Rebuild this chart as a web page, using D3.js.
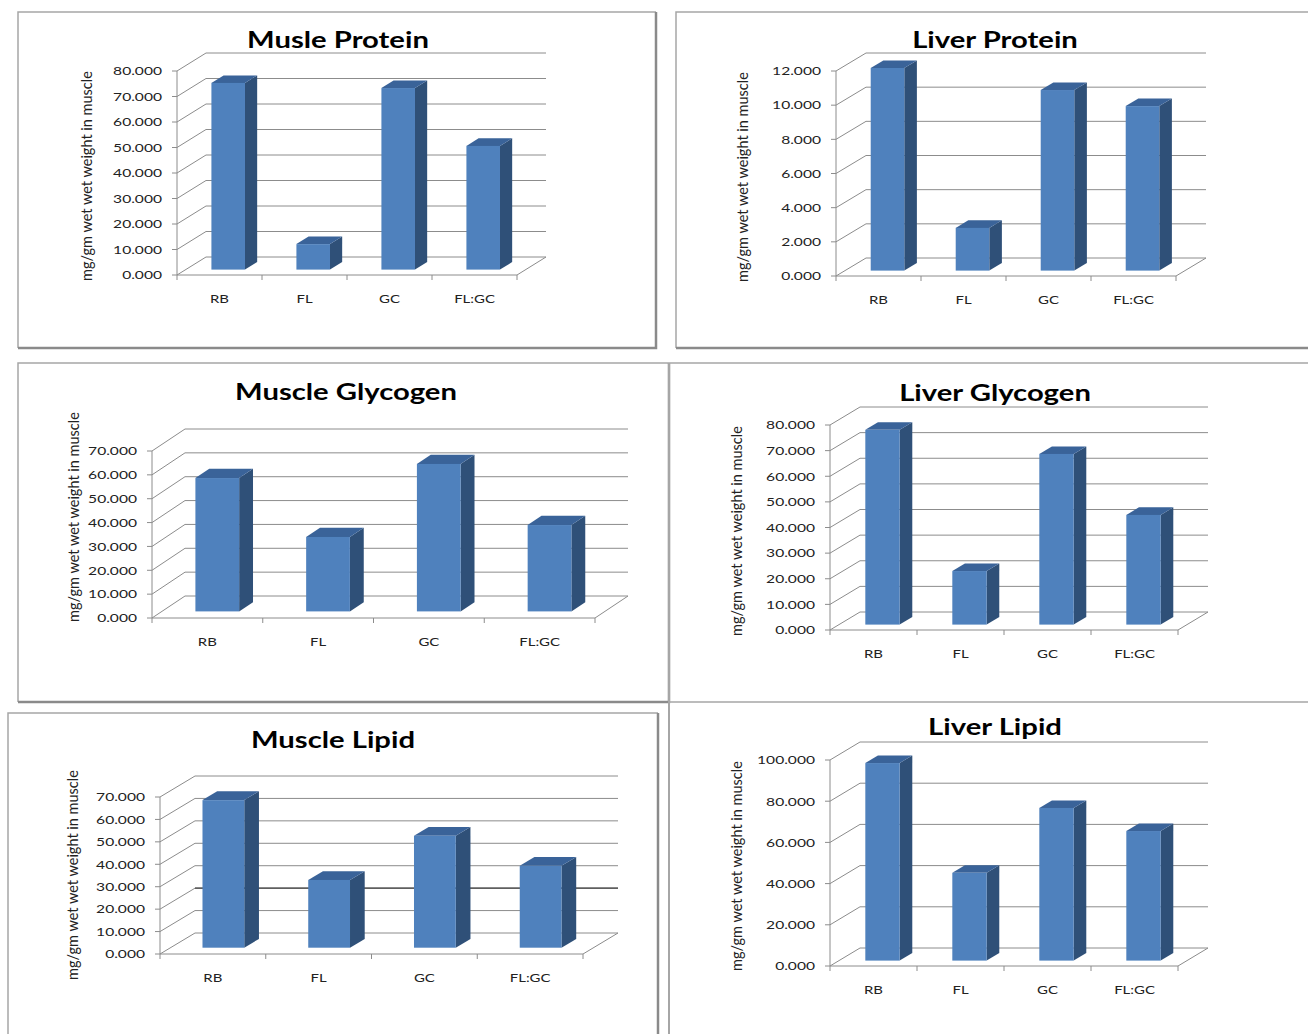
<!DOCTYPE html>
<html><head><meta charset="utf-8">
<script src="https://cdn.jsdelivr.net/npm/d3@7"></script>
<style>body{margin:0;background:#fff} svg{display:block}</style>
</head><body><svg id="c" width="1308" height="1034"></svg>
<script>
const categories = ["RB", "FL", "GC", "FL:GC"];
const titles = ["Musle Protein", "Liver Protein", "Muscle Glycogen", "Liver Glycogen", "Muscle Lipid", "Liver Lipid"];
const musleProtein = [73.2, 10.0, 71.2, 48.5];
const liverProtein = [11.86, 2.5, 10.57, 9.63];
const muscleGlycogen = [55.9, 31.2, 61.8, 36.2];
const liverGlycogen = [76.0, 20.9, 66.6, 42.8];
const muscleLipid = [65.8, 30.2, 49.9, 36.5];
const liverLipid = [95.9, 42.6, 74.1, 62.9];
const yMaxes = [80, 12, 70, 80, 70, 100];
const tickSteps = [10, 2, 10, 10, 10, 20];
const yAxisTitle = "mg/gm wet wet weight in muscle";

const series = [musleProtein, liverProtein, muscleGlycogen, liverGlycogen, muscleLipid, liverLipid];

const layouts = [
  {x0:177,y0:275,w:340,h:204,dx:29,dy:-18,tx:338,ty:48,lx:87,ly:176},
  {x0:836,y0:276,w:340,h:205,dx:30,dy:-18,tx:995,ty:48,lx:743,ly:177},
  {x0:152,y0:618,w:443,h:167,dx:33,dy:-22,tx:346,ty:400,lx:74,ly:517},
  {x0:830,y0:630,w:348,h:205,dx:30,dy:-18,tx:995,ty:401,lx:737,ly:531},
  {x0:160,y0:954,w:423,h:157,dx:35,dy:-21,tx:333,ty:748,lx:73,ly:875,dark:20},
  {x0:830,y0:966,w:348,h:206,dx:30,dy:-18,tx:995,ty:735,lx:737,ly:866}
];

const svg = d3.select("#c");
const FONT = "Lato, 'Open Sans', sans-serif";
const GRID = "#8c8c8c";
const SX = 1.3; // horizontal stretch of the reference text

// panel frames
const frames = svg.append("g").attr("fill","none");
function frame(x1,y1,x2,y2){
  frames.append("path").attr("d",`M${x1},${y2}V${y1}H${x2}`).attr("stroke","#a6a6a6").attr("stroke-width",1.5);
  frames.append("path").attr("d",`M${x2},${y1}V${y2}H${x1}`).attr("stroke","#8a8a8a").attr("stroke-width",2.5);
}
frame(18,12,656,348);
frame(676,12,1312,348);
frame(18,363,669,702);
frame(8,713,658,1040);
frames.append("path").attr("d","M669,363H1308").attr("stroke","#a6a6a6").attr("stroke-width",1.5);
frames.append("path").attr("d","M669,702H1308").attr("stroke","#a6a6a6").attr("stroke-width",1.5);
frames.append("path").attr("d","M669,363V1034").attr("stroke","#a6a6a6").attr("stroke-width",2);

function stretchedText(g, x, y, txt, size, anchor, weight){
  return g.append("text").attr("transform",`translate(${x},${y}) scale(${SX},1)`)
    .attr("text-anchor",anchor).attr("font-family",FONT).attr("font-size",size)
    .attr("font-weight",weight||"normal").attr("fill", weight==="bold" ? "#000" : "#222").text(txt);
}

series.forEach((vals, i) => {
  const L = layouts[i];
  const g = svg.append("g");
  const y = d3.scaleLinear().domain([0, yMaxes[i]]).range([L.y0, L.y0 - L.h]);
  const x = d3.scaleBand().domain(categories).range([L.x0, L.x0 + L.w]).padding(0);
  const ticks = d3.range(0, yMaxes[i] + tickSteps[i]/2, tickSteps[i]);
  const {dx, dy} = L;

  // side wall diagonals and back wall gridlines
  ticks.forEach(t => {
    const yy = y(t);
    const col = (L.dark === t) ? "#5f5f5f" : GRID;
    const sw = (L.dark === t) ? 1.8 : 1;
    g.append("line").attr("x1",L.x0).attr("y1",yy).attr("x2",L.x0+dx).attr("y2",yy+dy)
      .attr("stroke",GRID).attr("stroke-width",1);
    g.append("line").attr("x1",L.x0+dx).attr("y1",yy+dy).attr("x2",L.x0+L.w+dx).attr("y2",yy+dy)
      .attr("stroke",col).attr("stroke-width",sw);
  });
  // floor
  g.append("path").attr("fill","none").attr("stroke",GRID).attr("stroke-width",1)
    .attr("d",`M${L.x0},${L.y0}H${L.x0+L.w}L${L.x0+L.w+dx},${L.y0+dy}`);
  // y axis
  g.append("line").attr("x1",L.x0).attr("y1",y(0)).attr("x2",L.x0).attr("y2",y(yMaxes[i]))
    .attr("stroke",GRID);
  ticks.forEach(t => {
    g.append("line").attr("x1",L.x0-5).attr("x2",L.x0).attr("y1",y(t)).attr("y2",y(t)).attr("stroke",GRID);
    stretchedText(g, L.x0-15, y(t)+4.3, d3.format(".3f")(t), 12, "end");
  });
  // x ticks
  categories.concat(["_end"]).forEach((c, k) => {
    const xx = L.x0 + k * x.bandwidth();
    g.append("line").attr("x1",xx).attr("x2",xx).attr("y1",L.y0).attr("y2",L.y0+5).attr("stroke",GRID);
  });
  categories.forEach(c => {
    stretchedText(g, x(c)+x.bandwidth()/2, L.y0+28, c, 11.5, "middle");
  });
  // bars
  const bw = x.bandwidth()*0.395, f0 = 0.3, fd = 0.42;
  const ox = dx*f0, oy = dy*f0, sx = dx*fd, sy = dy*fd;
  categories.forEach((c, k) => {
    const v = vals[k];
    const xl = x(c) + x.bandwidth()/2 - bw/2 + ox;
    const xr = xl + bw;
    const yb = y(0) + oy, yt = y(v) + oy;
    g.append("path").attr("fill","#2f5078")
      .attr("d",`M${xr},${yb}L${xr+sx},${yb+sy}L${xr+sx},${yt+sy}L${xr},${yt}Z`);
    g.append("path").attr("fill","#3a6399")
      .attr("d",`M${xl},${yt}L${xr},${yt}L${xr+sx},${yt+sy}L${xl+sx},${yt+sy}Z`);
    g.append("rect").attr("x",xl).attr("y",yt).attr("width",bw).attr("height",yb-yt).attr("fill","#4f81bd");
  });
  // title
  stretchedText(g, L.tx, L.ty, titles[i], 22.5, "middle", "bold");
  // y axis title
  g.append("text").attr("transform",`translate(${L.lx},${L.ly}) rotate(-90)`).attr("dy","0.35em")
    .attr("text-anchor","middle").attr("font-family",FONT).attr("font-size",14.5)
    .attr("fill","#222").text(yAxisTitle);
});
</script></body></html>
